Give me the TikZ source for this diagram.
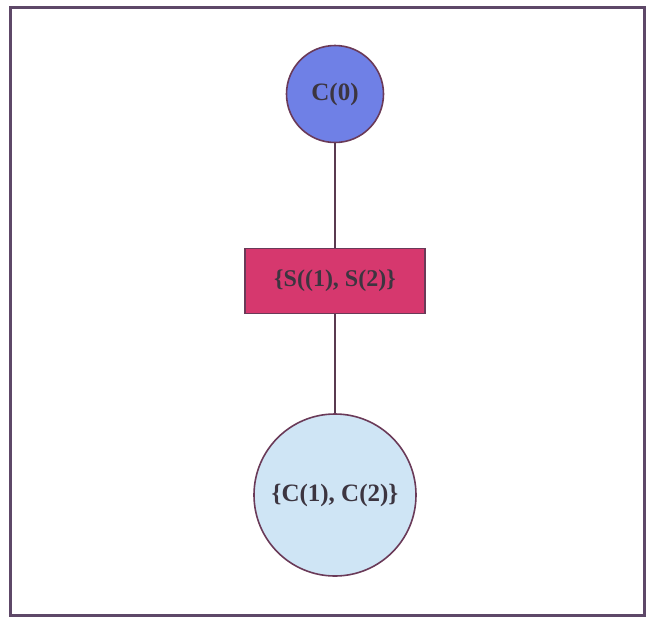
\documentclass[tikz,border=0pt]{standalone}
\usepackage{fontspec}
\setmainfont{Liberation Serif}
\definecolor{framecol}{HTML}{5E4868}
\definecolor{outlinecol}{HTML}{6A3A58}
\definecolor{linkcol}{HTML}{5A3A50}
\definecolor{rootfill}{HTML}{6F80E6}
\definecolor{sepfill}{HTML}{D6386E}
\definecolor{leaffill}{HTML}{CFE5F5}
\definecolor{textcol}{HTML}{3C3540}
\begin{document}
\begin{tikzpicture}[x=1pt,y=-1pt,
  lbl/.style={font=\bfseries\fontsize{25}{25}\selectfont, text=textcol},
  setnode/.style={circle, draw=outlinecol, line width=1.6pt, inner sep=0pt, lbl},
  link/.style={draw=linkcol, line width=1.3pt}]
  \useasboundingbox (0,0) rectangle (648,619);
  % outer frame
  \draw[draw=framecol, line width=3pt] (10,7) rectangle (644,615);
  % nodes
  \node[setnode, fill=rootfill, minimum size=97pt] (c0) at (335,94) {C(0)};
  \node[rectangle, draw=outlinecol, line width=1.6pt, fill=sepfill, minimum width=180pt, minimum height=65pt, inner sep=0pt, lbl, font=\bfseries\fontsize{24}{24}\selectfont] (s12) at (335,281) {\{S((1), S(2)\}};
  \node[setnode, fill=leaffill, minimum size=162pt] (c12) at (335,495) {\{C(1), C(2)\}};
  % connectors
  \draw[link] (c0) -- (s12);
  \draw[link] (s12) -- (c12);
\end{tikzpicture}
\end{document}
